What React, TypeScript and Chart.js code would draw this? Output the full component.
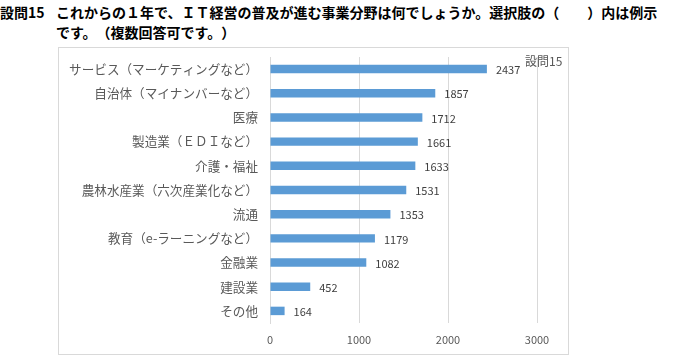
import React, { useEffect, useRef } from "react";
import { Chart, registerables } from "chart.js";

Chart.register(...registerables);

const titleLabel = "設問15";
const titleLine1 = "これからの１年で、ＩＴ経営の普及が進む事業分野は何でしょうか。選択肢の（　　）内は例示";
const titleLine2 = "です。（複数回答可です。）";
const seriesName = "設問15";
const categories = [
  "サービス（マーケティングなど）",
  "自治体（マイナンバーなど）",
  "医療",
  "製造業（ＥＤＩなど）",
  "介護・福祉",
  "農林水産業（六次産業化など）",
  "流通",
  "教育（e-ラーニングなど）",
  "金融業",
  "建設業",
  "その他",
];
const values = [2437, 1857, 1712, 1661, 1633, 1531, 1353, 1179, 1082, 452, 164];
const xMin = 0;
const xMax = 3000;
const xStep = 1000;

const FONT = "'Noto Sans CJK JP', 'Noto Sans', sans-serif";

const labelPlugin = {
  id: "valueLabels",
  afterDatasetsDraw(chart: any) {
    const ctx = chart.ctx;
    const meta = chart.getDatasetMeta(0);
    ctx.save();
    ctx.font = `11px ${FONT}`;
    ctx.fillStyle = "#404040";
    ctx.textAlign = "left";
    ctx.textBaseline = "middle";
    meta.data.forEach((bar: any, i: number) => {
      ctx.fillText(String(chart.data.datasets[0].data[i]), bar.x + 9, bar.y + 1);
    });
    ctx.font = `12px ${FONT}`;
    ctx.fillStyle = "#595959";
    ctx.fillText(chart.data.datasets[0].label, 525, 61);
    ctx.restore();
  },
};

export default function App() {
  const ref = useRef<HTMLCanvasElement>(null);
  useEffect(() => {
    const chart = new Chart(ref.current!, {
      type: "bar",
      data: {
        labels: categories,
        datasets: [
          {
            label: seriesName,
            data: values,
            backgroundColor: "#5b9bd5",
            categoryPercentage: 1,
            barPercentage: 0.35,
          },
        ],
      },
      options: {
        indexAxis: "y",
        animation: false,
        responsive: false,
        maintainAspectRatio: false,
        layout: { padding: { left: 0, top: 57, right: 143, bottom: 0 } },
        plugins: { legend: { display: false }, tooltip: { enabled: false } },
        scales: {
          x: {
            min: xMin,
            max: xMax,
            afterFit: (s: any) => {
              s.height = 41;
            },
            ticks: {
              stepSize: xStep,
              color: "#595959",
              font: { family: FONT, size: 11 },
              padding: 10,
              callback: (v: any) => String(v),
            },
            grid: { color: "#d9d9d9", drawTicks: false },
            border: { display: false },
          },
          y: {
            afterFit: (s: any) => {
              s.width = 270;
            },
            ticks: {
              color: "#595959",
              font: { family: FONT, size: 12.6 },
              padding: 12,
            },
            grid: { display: false, drawTicks: false },
            border: { display: true, color: "#d9d9d9" },
          },
        },
      },
      plugins: [labelPlugin],
    });
    return () => chart.destroy();
  }, []);

  const titleStyle: any = {
    position: "absolute",
    top: 2,
    fontFamily: FONT,
    fontWeight: "bold",
    fontSize: 14,
    lineHeight: "20px",
    color: "#000",
    whiteSpace: "nowrap",
    textSpacingTrim: "space-all",
  };

  return (
    <div style={{ position: "absolute", left: 0, top: 0, width: 680, height: 364, background: "#fff" }}>
      <div style={{ ...titleStyle, left: 0 }}>{titleLabel}</div>
      <div style={{ ...titleStyle, left: 56, width: 620 }}>
        {titleLine1}
        <br />
        {titleLine2}
      </div>
      <div
        style={{
          position: "absolute",
          left: 58,
          top: 47,
          width: 511,
          height: 308,
          border: "1px solid #d9d9d9",
          boxSizing: "border-box",
        }}
      />
      <canvas
        ref={ref}
        width={680}
        height={364}
        style={{ position: "absolute", left: 0, top: 0, textSpacingTrim: "space-all" } as any}
      />
    </div>
  );
}
